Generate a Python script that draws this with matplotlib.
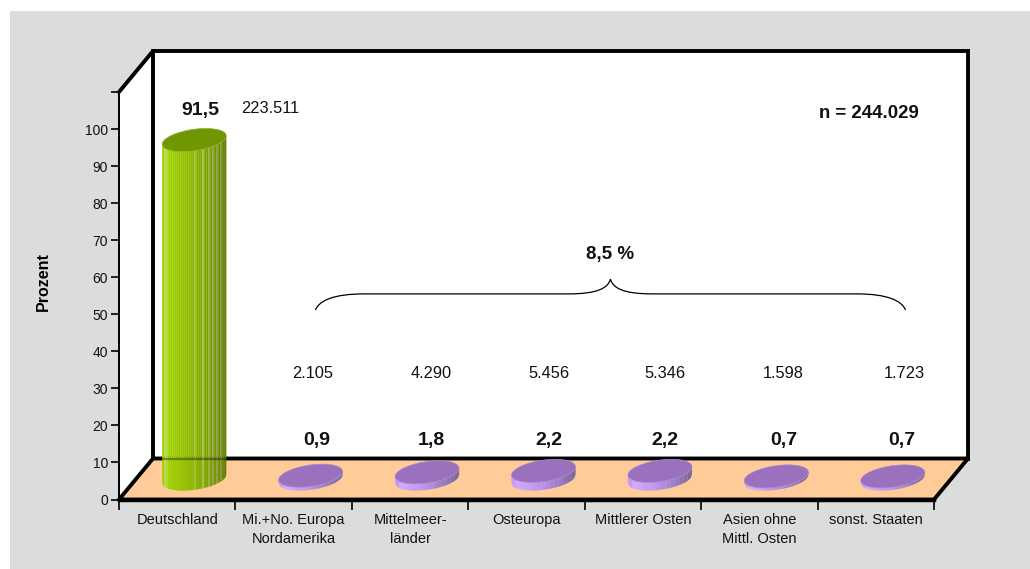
import numpy as np
import matplotlib
matplotlib.use("Agg")
import matplotlib.pyplot as plt
from matplotlib.patches import Polygon, PathPatch, Rectangle
from matplotlib.path import Path

plt.rcParams["font.family"] = ["Liberation Sans", "DejaVu Sans"]

categories = ["Deutschland", "Mi.+No. Europa\nNordamerika", "Mittelmeer-\nländer",
              "Osteuropa", "Mittlerer Osten", "Asien ohne\nMittl. Osten", "sonst. Staaten"]
percent = [91.5, 0.9, 1.8, 2.2, 2.2, 0.7, 0.7]
counts = ["223.511", "2.105", "4.290", "5.456", "5.346", "1.598", "1.723"]
total = "244.029"
others_share = "8,5 %"
yticks = list(range(0, 120, 10))

W, H = 1030, 569
fig = plt.figure(figsize=(W / 100, H / 100), dpi=100, facecolor="white")

# grey panel behind everything
fig.add_artist(Rectangle((10 / W, 0), 1, 1 - 11 / H, transform=fig.transFigure,
                         facecolor="#DCDCDC", edgecolor="none", zorder=-1))

ax = fig.add_axes([119 / W, (H - 499.5) / H, 815 / W, 407.5 / H])
ax.set_xlim(0, 7)
ax.set_ylim(0, 110)
ax.patch.set_alpha(0)
for s in ["top", "right"]:
    ax.spines[s].set_visible(False)
ax.spines["left"].set_linewidth(1.4)
ax.spines["bottom"].set_linewidth(2.5)

# one data unit in pixels, and the depth of the 3D box in data units
px_x = 815 / 7
px_y = 407.5 / 110
dx = 34 / px_x
dy = 41 / px_y

# walls and floor
ax.add_patch(Polygon([(0, 0), (dx, dy), (dx, 110 + dy), (0, 110)], facecolor="white",
                     edgecolor="none", clip_on=False, zorder=0))
ax.add_patch(Polygon([(dx, dy), (7 + dx, dy), (7 + dx, 110 + dy), (dx, 110 + dy)],
                     facecolor="white", edgecolor="black", lw=2.8, clip_on=False, zorder=1,
                     joinstyle="miter"))
ax.add_patch(Polygon([(0, 0), (7, 0), (7 + dx, dy), (dx, dy)], facecolor="#FFCC99",
                     edgecolor="black", lw=2.8, clip_on=False, zorder=2, joinstyle="round"))
ax.plot([0, dx], [110, 110 + dy], color="black", lw=2.8, clip_on=False, zorder=3,
        solid_capstyle="round")


def cylinder(center, value, side_colors, top_color, edge_color, z):
    # slanted ellipse standing for a round base on the floor
    cx = center + 0.5 + dx / 2
    cy = dy / 2
    t = np.linspace(0, 2 * np.pi, 361)[:-1]
    ex = (30.7 * np.cos(t) + 9 * np.sin(t)) / px_x
    ey = (1.0 * np.cos(t) + 11.5 * np.sin(t)) / px_y
    # front half runs from the left extreme round to the right extreme
    i_left = np.argmin(ex)
    i_right = np.argmax(ex)
    idx = np.arange(i_left, i_right + 360 + 1) % 360 if i_right < i_left else np.arange(i_left, i_right + 1)
    front_x = ex[idx]
    front_y = ey[idx]
    # equal-width vertical strips across the front
    n = len(side_colors)
    edges = np.linspace(front_x[0], front_x[-1], n + 1)
    for k in range(n):
        xs = np.linspace(edges[k], edges[k + 1], 4)
        low = np.interp(xs, front_x, front_y)
        poly = np.r_[np.c_[cx + xs, cy + low], np.c_[cx + xs[::-1], cy + low[::-1] + value]]
        ax.add_patch(Polygon(poly, facecolor=side_colors[k], edgecolor=side_colors[k], lw=0.1,
                             clip_on=False, zorder=z))
    ax.add_patch(Polygon(np.c_[cx + ex, cy + ey + value], facecolor=top_color,
                         edgecolor=edge_color, lw=0.5, clip_on=False, zorder=z + 1))


# highlight at the left, thin light lines towards the shaded right side
green_side = ["#9ED000", "#B6DC46", "#AEDA30", "#A0D200", "#9ED000", "#9CCD00", "#9ACB00",
              "#98C800", "#97C600", "#95C400", "#94C200", "#92C000", "#90BD00", "#8FBB00",
              "#8DB900", "#8BB600", "#9DC030", "#87B000", "#85AE00", "#83AB00", "#A3BF50",
              "#7FA500", "#7DA200", "#94AF40", "#799B00", "#8CA63A", "#749400", "#88A03C",
              "#6E8C00", "#7F9638", "#6A8600", "#5F7A00"]
purple_side = ["#C59CF4", "#CFA8FF", "#CCA5FC", "#C8A2F8", "#C49EF4", "#C09AF0", "#BC96EC",
               "#B792E6", "#B08CDE", "#A886D4", "#A080CA", "#987ABF", "#8F74B4", "#866EA8",
               "#7D689C"]

for i, v in enumerate(percent):
    if i == 0:
        cylinder(i, v, green_side, "#6F9700", "#8FAF30", 5)
    else:
        cylinder(i, v, purple_side, "#9B70BC", "#A88CD0", 5)

# back edge of the floor shows faintly through the tall bar
ax.plot([0.5 + dx / 2 - 0.27, 0.5 + dx / 2 + 0.27], [dy, dy], color="black", lw=1.5,
        alpha=0.3, zorder=7, clip_on=False)

ax.set_yticks(yticks)
ax.set_yticklabels([str(v) if v <= 100 else "" for v in yticks], fontsize=10, color="#111111")
ax.set_xticks(range(8))
ax.set_xticklabels([])
ax.set_xticks(np.arange(7) + 0.5, minor=True)
ax.set_xticklabels(categories, minor=True, fontsize=10.5, color="#111111", linespacing=1.4)
ax.tick_params(axis="x", which="major", length=7, width=1.2)
ax.tick_params(axis="x", which="minor", length=0, pad=10)
ax.tick_params(axis="y", length=6, width=1.2, pad=2)
ax.set_ylabel("Prozent", fontsize=11.5, fontweight="bold", labelpad=0)
ax.yaxis.set_label_coords(-68.5 / 815, 0.534)

# value labels, nudged sideways by a few pixels per category
count_shift = [76, 2, 4, 5, 5, 7, 12]
percent_shift = [6, 6, 4, 5, 5, 7, 9]
count_y = [105.5, 34.0, 34.0, 34.0, 34.0, 34.0, 34.0]
percent_y = [105.0, 16.0, 16.0, 16.0, 16.0, 16.0, 16.0]
for i in range(7):
    base = i + 0.5 + dx / 2
    ax.annotate(counts[i], (base, count_y[i]), xytext=(count_shift[i] * 0.72, 0),
                textcoords="offset points", ha="center", va="center", fontsize=11.8,
                color="#111111", zorder=8, annotation_clip=False)
    ax.annotate(f"{percent[i]:.1f}".replace(".", ","), (base, percent_y[i]),
                xytext=(percent_shift[i] * 0.72, 0), textcoords="offset points",
                ha="center", va="center", fontsize=14, fontweight="bold",
                color="#111111", zorder=8, annotation_clip=False)

ax.text(6.44, 104.3, "n = " + total, ha="center", va="center", fontsize=13.4,
        fontweight="bold", color="#111111", zorder=8)
ax.text(4.22, 66.2, others_share, ha="center", va="center", fontsize=13.5,
        fontweight="bold", color="#111111", zorder=8)

# curly brace over the small groups
left, right = 1.687, 6.755
mid = (left + right) / 2
y_end, y_bar, y_tip = 51.15, 55.5, 59.5
left_bar = left + 0.42
right_bar = right - 0.42
verts = [(left, y_end), (left + 0.03, 53.6), (left + 0.15, y_bar), (left_bar, y_bar),
         (mid - 0.36, y_bar), (mid - 0.10, y_bar), (mid - 0.02, 57.2), (mid, y_tip),
         (mid + 0.02, 57.2), (mid + 0.10, y_bar), (mid + 0.36, y_bar),
         (right_bar, y_bar), (right - 0.15, y_bar), (right - 0.03, 53.6), (right, y_end)]
codes = [Path.MOVETO, Path.CURVE4, Path.CURVE4, Path.CURVE4,
         Path.LINETO, Path.CURVE4, Path.CURVE4, Path.CURVE4,
         Path.CURVE4, Path.CURVE4, Path.CURVE4,
         Path.LINETO, Path.CURVE4, Path.CURVE4, Path.CURVE4]
ax.add_patch(PathPatch(Path(verts, codes), facecolor="none", edgecolor="black", lw=0.9,
                       zorder=8, clip_on=False))

fig.savefig("out.png", dpi=100, facecolor="white")
